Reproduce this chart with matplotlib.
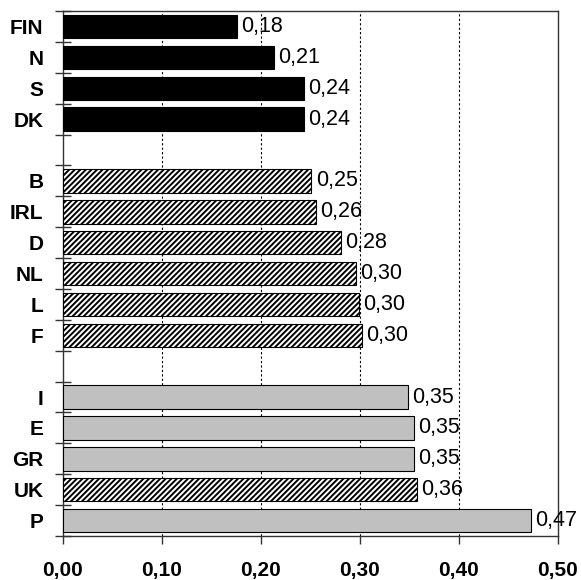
import matplotlib
matplotlib.use("Agg")
import matplotlib.pyplot as plt

# Countries from top to bottom, None = empty slot between groups
countries = ["FIN", "N", "S", "DK", None,
             "B", "IRL", "D", "NL", "L", "F", None,
             "I", "E", "GR", "UK", "P"]
values = [0.176, 0.213, 0.243, 0.243, None,
          0.251, 0.256, 0.281, 0.296, 0.299, 0.302, None,
          0.348, 0.355, 0.355, 0.358, 0.473]
# fill style per bar: "black", "hatch", "gray"
styles = ["black", "black", "black", "black", None,
          "hatch", "hatch", "hatch", "hatch", "hatch", "hatch", None,
          "gray", "gray", "gray", "hatch", "gray"]
x_ticks = [0.0, 0.1, 0.2, 0.3, 0.4, 0.5]

plt.rcParams['font.family'] = ['Liberation Sans', 'DejaVu Sans']
plt.rcParams['hatch.linewidth'] = 1.4

fig = plt.figure(figsize=(5.81, 5.80), dpi=100)
ax = fig.add_axes([0.1084, 0.0759, 0.852, 0.905])

label_pos = []
label_txt = []
for i, (name, val, st) in enumerate(zip(countries, values, styles)):
    if name is None:
        continue
    if st == "black":
        ax.barh(i, val, height=0.76, color='black', edgecolor='black', lw=0.8, zorder=3)
    elif st == "gray":
        ax.barh(i, val, height=0.76, color='#c0c0c0', edgecolor='black', lw=0.8, zorder=3)
    else:
        ax.barh(i, val, height=0.76, color='white', edgecolor='black', lw=0.8,
                hatch='//////', zorder=3)
    ax.annotate(f"{val:.2f}".replace('.', ','), xy=(val, i), xytext=(3, 0),
                textcoords='offset points', va='center', ha='left', fontsize=15.5)
    label_pos.append(i)
    label_txt.append(name)

ax.set_xlim(0, 0.5)
ax.set_ylim(16.5, -0.5)

ax.set_yticks(label_pos)
ax.set_yticklabels(label_txt, fontsize=15, fontweight='bold')
ax.set_yticks([k + 0.5 for k in range(-1, 17)], minor=True)
ax.tick_params(axis='y', which='major', length=0, pad=14)
ax.tick_params(axis='y', which='minor', length=12, direction='inout', width=1, color='#333333')

ax.set_xticks(x_ticks)
ax.set_xticklabels([f"{t:.2f}".replace('.', ',') for t in x_ticks], fontsize=15, fontweight='bold')
ax.tick_params(axis='x', length=6, direction='out', width=1, color='#333333', pad=12)

for t in x_ticks[1:-1]:
    ax.axvline(t, color='black', lw=0.8, ls=(0, (2, 2)), zorder=1)

for s in ax.spines.values():
    s.set_color('#333333')
    s.set_linewidth(1)

plt.savefig("out.png", dpi=100)
